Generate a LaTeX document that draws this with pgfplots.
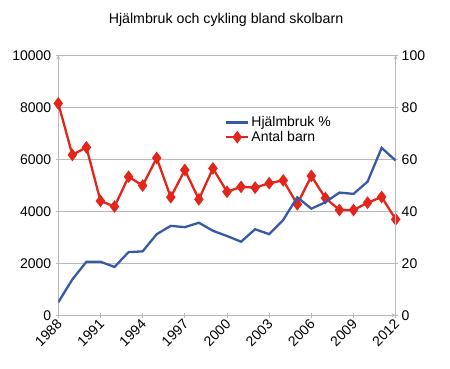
\documentclass[border=0pt]{standalone}
\usepackage{fontspec}
\setmainfont{Liberation Sans}
\usepackage{pgfplots}
\pgfplotsset{compat=1.18}
\definecolor{hblue}{RGB}{54,90,165}
\definecolor{ared}{RGB}{227,38,27}
\definecolor{axgray}{RGB}{185,185,185}
\begin{document}
\begin{tikzpicture}[x=1pt,y=1pt]
\useasboundingbox (0,0) rectangle (450,368);
\node at (226,348) {\fontsize{14.2}{16}\selectfont Hjälmbruk och cykling bland skolbarn};
\pgfplotsset{
  every axis/.append style={
    at={(58.3pt,52.7pt)}, anchor=south west, scale only axis,
    width=337.4pt, height=260pt,
    xmin=1988, xmax=2012,
    axis line style={axgray, line width=0.8pt, -},
    tick style={axgray, line width=0.8pt},
    tick align=outside,
    major tick length=5pt, minor tick length=5pt,
    ticklabel style={font=\fontsize{14}{16}\selectfont},
    /pgf/number format/assume math mode=true,
    /pgf/number format/1000 sep={},
    scaled y ticks=false,
  }
}
\begin{axis}[
  ymin=0, ymax=10000,
  axis x line=bottom, axis y line=left,
  xtick={1988,1991,...,2012},
  minor x tick num=2,
  xticklabel style={xshift=2pt, yshift=-3pt, rotate=45, anchor=east, inner sep=1pt},
  yticklabel style={xshift=-1pt},
  ytick={0,2000,...,10000},
  ymajorgrids, grid style={axgray, line width=0.8pt},
]
\addplot[ared, line width=2.3pt, mark=diamond*, mark size=4.5pt, mark options={solid, fill=ared}] coordinates {
(1988,8150) (1989,6170) (1990,6460) (1991,4400) (1992,4180) (1993,5330)
(1994,4990) (1995,6050) (1996,4540) (1997,5590) (1998,4460) (1999,5650)
(2000,4750) (2001,4940) (2002,4910) (2003,5080) (2004,5190) (2005,4270)
(2006,5360) (2007,4510) (2008,4050) (2009,4050) (2010,4330) (2011,4550)
(2012,3690)};
\end{axis}
\begin{axis}[
  ymin=0, ymax=100,
  axis x line=none, axis y line=right,
  ytick={0,20,...,100},
  legend style={draw=none, fill=none, at={(0.485,0.78)}, anchor=north west,
    font=\fontsize{14}{16}\selectfont, row sep=-1pt},
  legend cell align=left,
  legend image code/.code={\draw[mark repeat=2,mark phase=2,#1] plot coordinates {(0pt,0pt) (11pt,0pt) (22pt,0pt)};},
]
\addplot[hblue, line width=2.3pt] coordinates {
(1988,5.0) (1989,13.8) (1990,20.6) (1991,20.6) (1992,18.6) (1993,24.3)
(1994,24.6) (1995,31.2) (1996,34.4) (1997,33.9) (1998,35.6) (1999,32.5)
(2000,30.5) (2001,28.3) (2002,33.1) (2003,31.2) (2004,36.7) (2005,45.4)
(2006,41.0) (2007,43.5) (2008,47.2) (2009,46.7) (2010,51.4) (2011,64.4)
(2012,59.5)};
\addlegendentry{Hjälmbruk \%}
\addlegendimage{ared, line width=2.3pt, mark=diamond*, mark size=4.5pt, mark options={solid, fill=ared}}
\addlegendentry{Antal barn}
\end{axis}
\end{tikzpicture}
\end{document}
